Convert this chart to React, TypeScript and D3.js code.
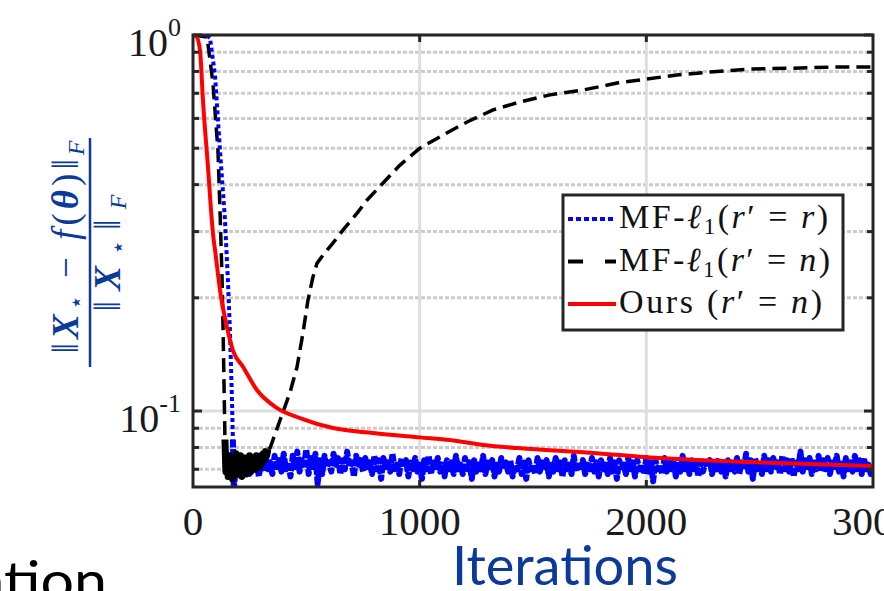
import * as d3 from "d3";

// x axis (iterations) and y axis (relative error, log scale)
const iterTicks = [0, 1000, 2000, 3000];
const iterGrid = [1000, 2000];
const errMajor = [0.1, 1];
const errMinor = [0.07, 0.08, 0.09, 0.2, 0.3, 0.4, 0.5, 0.6, 0.7, 0.8, 0.9];

// Ours (r' = n)
const oursIter = [0, 15, 31, 44, 66, 88, 100, 119, 150, 176, 221, 282, 371, 472, 618, 794, 1000, 1134, 1280, 1430, 1575, 1707, 2000, 2444, 3000];
const oursErr = [1.0, 0.99, 0.91, 0.67, 0.446, 0.297, 0.26, 0.21, 0.167, 0.145, 0.131, 0.1137, 0.1018, 0.0958, 0.0901, 0.0874, 0.0851, 0.0837, 0.0812, 0.0797, 0.0787, 0.0778, 0.0754, 0.0732, 0.0714];

// MF-l1 (r' = r): drop, then noisy floor sampled every 10 iterations from 180
const mfrIter = [0, 60, 75, 97, 119, 141, 154, 163, 172, 176];
const mfrErr = [1.0, 1.0, 0.982, 0.783, 0.494, 0.322, 0.223, 0.164, 0.107, 0.084];
const mfrFloorStart = 180;
const mfrFloorStep = 10;
const mfrFloor = [
  0.062, 0.072, 0.069, 0.075, 0.067, 0.071, 0.074, 0.068, 0.073, 0.070, 0.076, 0.067, 0.072, 0.069, 0.075, 0.070, 0.073, 0.068, 0.076, 0.071,
  0.074, 0.069, 0.077, 0.070, 0.073, 0.067, 0.076, 0.071, 0.078, 0.069, 0.074, 0.072, 0.079, 0.068, 0.075, 0.071, 0.077, 0.064, 0.074, 0.068,
  0.076, 0.071, 0.073, 0.069, 0.077, 0.072, 0.075, 0.068, 0.074, 0.070, 0.078, 0.071, 0.073, 0.067, 0.076, 0.072, 0.074, 0.069, 0.075, 0.071,
  0.073, 0.068, 0.076, 0.070, 0.074, 0.066, 0.075, 0.071, 0.073, 0.069, 0.077, 0.070, 0.072, 0.068, 0.075, 0.071, 0.074, 0.067, 0.073, 0.070,
  0.075, 0.069, 0.072, 0.066, 0.074, 0.070, 0.076, 0.068, 0.073, 0.071, 0.075, 0.069, 0.072, 0.067, 0.074, 0.070, 0.073, 0.068, 0.076, 0.070,
  0.072, 0.068, 0.075, 0.070, 0.073, 0.066, 0.074, 0.069, 0.072, 0.070, 0.076, 0.068, 0.073, 0.071, 0.074, 0.067, 0.072, 0.069, 0.075, 0.070,
  0.073, 0.069, 0.074, 0.067, 0.072, 0.070, 0.075, 0.068, 0.073, 0.066, 0.074, 0.070, 0.072, 0.068, 0.075, 0.069, 0.073, 0.071, 0.074, 0.067,
  0.072, 0.069, 0.075, 0.070, 0.073, 0.067, 0.074, 0.070, 0.072, 0.068, 0.076, 0.069, 0.073, 0.071, 0.074, 0.068, 0.072, 0.070, 0.075, 0.069,
  0.073, 0.067, 0.074, 0.070, 0.072, 0.068, 0.075, 0.069, 0.073, 0.066, 0.074, 0.071, 0.072, 0.068, 0.075, 0.070, 0.073, 0.067, 0.074, 0.070,
  0.072, 0.068, 0.075, 0.069, 0.073, 0.065, 0.074, 0.070, 0.072, 0.068, 0.075, 0.069, 0.073, 0.070, 0.074, 0.067, 0.072, 0.069, 0.076, 0.070,
  0.073, 0.068, 0.074, 0.070, 0.072, 0.067, 0.075, 0.069, 0.073, 0.071, 0.074, 0.068, 0.072, 0.070, 0.075, 0.069, 0.073, 0.067, 0.074, 0.070,
  0.072, 0.069, 0.075, 0.068, 0.073, 0.070, 0.077, 0.069, 0.074, 0.066, 0.075, 0.070, 0.073, 0.068, 0.076, 0.070, 0.074, 0.069, 0.075, 0.071,
  0.073, 0.068, 0.076, 0.070, 0.074, 0.069, 0.075, 0.067, 0.073, 0.070, 0.078, 0.069, 0.074, 0.071, 0.075, 0.068, 0.073, 0.070, 0.076, 0.069,
  0.074, 0.070, 0.075, 0.068, 0.073, 0.071, 0.076, 0.069, 0.074, 0.067, 0.075, 0.070, 0.073, 0.069, 0.076, 0.070, 0.074, 0.068, 0.075, 0.070,
  0.072, 0.068, 0.071,
];

// MF-l1 (r' = n): drop, noisy dip every 5 iterations from 145, then rise
const mfnDropIter = [0, 62, 88, 110, 119, 128, 133, 138, 141];
const mfnDropErr = [1.0, 0.988, 0.745, 0.494, 0.343, 0.227, 0.161, 0.107, 0.084];
const mfnDipStart = 145;
const mfnDipStep = 5;
const mfnDip = [
  0.069, 0.074, 0.067, 0.076, 0.070, 0.072, 0.066, 0.075, 0.069, 0.077, 0.068, 0.073, 0.070, 0.076, 0.067, 0.074, 0.071, 0.075, 0.068, 0.073,
  0.070, 0.076, 0.069, 0.074, 0.071, 0.075, 0.070, 0.076, 0.072, 0.075, 0.071, 0.076, 0.073, 0.077, 0.074, 0.078, 0.076, 0.079,
];
const mfnRiseIter = [340, 384, 428, 459, 485, 507, 529, 547, 574, 618, 662, 724, 768, 913, 1001, 1103, 1209, 1324, 1443, 1575, 1721, 1871, 2003, 2135, 2281, 2457, 2678, 2824, 3000];
const mfnRiseErr = [0.0797, 0.0946, 0.112, 0.131, 0.161, 0.197, 0.227, 0.247, 0.26, 0.28, 0.303, 0.336, 0.364, 0.451, 0.5, 0.542, 0.587, 0.632, 0.664, 0.693, 0.714, 0.745, 0.764, 0.783, 0.797, 0.812, 0.817, 0.822, 0.822];

const W = 884;
const H = 591;
const plot = { left: 193, top: 35, right: 873, bottom: 487 };
const errBottom = 0.0628;

const BLUE_TEXT = "#0b3a9a";
const AXIS = "#262626";
const SERIF = "'Liberation Serif', 'DejaVu Serif', serif";
const SANS = "Lato, 'Open Sans', sans-serif";

const xScale = d3.scaleLinear().domain([0, 3000]).range([plot.left, plot.right]);
const yScale = d3.scaleLog().domain([errBottom, 1]).range([plot.bottom, plot.top]);

type Pt = [number, number];
const zip = (xs: number[], ys: number[]): Pt[] => xs.map((x, i) => [x, ys[i]]);
const fromStep = (start: number, step: number, ys: number[]): Pt[] => ys.map((y, i) => [start + i * step, y]);

const oursPts = zip(oursIter, oursErr);
const mfrDrop = zip(mfrIter, mfrErr);
const mfrNoise = [mfrDrop[mfrDrop.length - 1]].concat(fromStep(mfrFloorStart, mfrFloorStep, mfrFloor));
const mfnDrop = zip(mfnDropIter, mfnDropErr);
const mfnNoise = [mfnDrop[mfnDrop.length - 1]].concat(fromStep(mfnDipStart, mfnDipStep, mfnDip));
const mfnRise = zip(mfnRiseIter, mfnRiseErr);
const mfnPts = mfnDrop.concat(fromStep(mfnDipStart, mfnDipStep, mfnDip)).concat(mfnRise);

const line = d3.line<Pt>().x((d) => xScale(d[0])).y((d) => yScale(d[1]));
const smooth = d3.line<Pt>().x((d) => xScale(d[0])).y((d) => yScale(d[1])).curve(d3.curveMonotoneX);

const legendRows = [
  { color: "#0000ff", dash: "5,3", label: "r" },
  { color: "#000000", dash: "15,22", label: "n" },
  { color: "#ff0000", dash: "", label: "ours" },
];

function ErrLabel({ v }: { v: number }) {
  const exp = Math.round(Math.log10(v));
  return (
    <text x={181} y={yScale(v) + 21} textAnchor="end" fontFamily={SERIF} fontSize={40} fill="#1a1a1a">
      <tspan>10</tspan>
      <tspan fontSize={26} dy={-20}>{exp === 0 ? "0" : `${exp}`}</tspan>
    </text>
  );
}

function LegendLabel({ kind, x, y }: { kind: string; x: number; y: number }) {
  if (kind === "ours") {
    return (
      <text x={x} y={y} fontFamily={SERIF} fontSize={34} fill="#111" textLength={203} lengthAdjust="spacing">
        <tspan>Ours (</tspan>
        <tspan fontStyle="italic">r</tspan>
        <tspan>′ = </tspan>
        <tspan fontStyle="italic">n</tspan>
        <tspan>)</tspan>
      </text>
    );
  }
  return (
    <text x={x} y={y} fontFamily={SERIF} fontSize={34} fill="#111" textLength={kind === "r" ? 209 : 211} lengthAdjust="spacing">
      <tspan>MF-</tspan>
      <tspan fontStyle="italic">ℓ</tspan>
      <tspan fontSize={23} dy={6}>1</tspan>
      <tspan dy={-6}>(</tspan>
      <tspan fontStyle="italic">r</tspan>
      <tspan>′ = </tspan>
      <tspan fontStyle="italic">{kind}</tspan>
      <tspan>)</tspan>
    </text>
  );
}

export default function App() {
  const legendX = 563;
  const legendY = 195;
  return (
    <svg width={W} height={H} style={{ position: "absolute", left: 0, top: 0, background: "#fff" }}>
      <defs>
        <clipPath id="plotClip">
          <rect x={plot.left} y={plot.top} width={plot.right - plot.left} height={plot.bottom - plot.top} />
        </clipPath>
      </defs>

      {/* grid */}
      {errMinor.map((v) => (
        <line key={"gm" + v} x1={plot.left} x2={plot.right} y1={yScale(v)} y2={yScale(v)} stroke="#cbcbcb" strokeWidth={3} strokeDasharray="4,2" />
      ))}
      {errMajor.map((v) => (
        <line key={"gM" + v} x1={plot.left} x2={plot.right} y1={yScale(v)} y2={yScale(v)} stroke="#dedede" strokeWidth={3} />
      ))}
      {iterGrid.map((v) => (
        <line key={"gx" + v} x1={xScale(v)} x2={xScale(v)} y1={plot.top} y2={plot.bottom} stroke="#dedede" strokeWidth={3} />
      ))}

      {/* series */}
      <g clipPath="url(#plotClip)" fill="none" strokeLinejoin="round">
        <path d={line(mfnPts) || ""} stroke="#000" strokeWidth={3.5} strokeDasharray="14,7" />
        <path d={line(mfrNoise) || ""} stroke="#0000ff" strokeWidth={6} strokeDasharray="8,1.5" />
        <path d={line(mfnNoise) || ""} stroke="#000" strokeWidth={7} />
        <path d={line(mfrDrop) || ""} stroke="#0000ff" strokeWidth={4} strokeDasharray="4,3" />
        <path d={smooth(oursPts) || ""} stroke="#ff0000" strokeWidth={4} />
      </g>

      {/* axes box and ticks */}
      <rect x={plot.left} y={plot.top} width={plot.right - plot.left} height={plot.bottom - plot.top} fill="none" stroke={AXIS} strokeWidth={3} />
      {errMinor.concat(errMajor).map((v) => {
        const len = errMajor.includes(v) ? 9 : 6;
        const y = yScale(v);
        return (
          <g key={"t" + v} stroke={AXIS} strokeWidth={3}>
            <line x1={plot.left} x2={plot.left + len} y1={y} y2={y} />
            <line x1={plot.right} x2={plot.right - len} y1={y} y2={y} />
          </g>
        );
      })}
      {iterGrid.map((v) => (
        <g key={"tx" + v} stroke={AXIS} strokeWidth={3}>
          <line x1={xScale(v)} x2={xScale(v)} y1={plot.bottom} y2={plot.bottom - 7} />
          <line x1={xScale(v)} x2={xScale(v)} y1={plot.top} y2={plot.top + 7} />
        </g>
      ))}

      {/* tick labels */}
      {iterTicks.map((v) => (
        <text key={"lx" + v} x={xScale(v)} y={535} textAnchor="middle" fontFamily={SERIF} fontSize={41} fill="#1a1a1a">
          {v}
        </text>
      ))}
      {errMajor.map((v) => (
        <ErrLabel key={"ly" + v} v={v} />
      ))}

      {/* y label: ||X* - f(theta)||_F / ||X*||_F */}
      <g transform="translate(90,252) rotate(-90)" fill={BLUE_TEXT} fontFamily={SERIF}>
        <text x={5} y={-12} textAnchor="middle" fontSize={37} textLength={213} lengthAdjust="spacing">
          <tspan>‖</tspan>
          <tspan fontWeight="bold" fontStyle="italic">X</tspan>
          <tspan fontSize={24} dy={6}>⋆</tspan>
          <tspan dy={-6}> − </tspan>
          <tspan fontStyle="italic">f</tspan>
          <tspan>(</tspan>
          <tspan fontWeight="bold" fontStyle="italic">θ</tspan>
          <tspan>)‖</tspan>
          <tspan fontSize={24} fontStyle="italic" dy={6}>F</tspan>
        </text>
        <line x1={-115} x2={114} y1={0} y2={0} stroke={BLUE_TEXT} strokeWidth={2.5} />
        <text x={-1} y={30} textAnchor="middle" fontSize={37} textLength={117} lengthAdjust="spacing">
          <tspan>‖</tspan>
          <tspan fontWeight="bold" fontStyle="italic">X</tspan>
          <tspan fontSize={24} dy={6}>⋆</tspan>
          <tspan dy={-6}>‖</tspan>
          <tspan fontSize={24} fontStyle="italic" dy={6}>F</tspan>
        </text>
      </g>

      {/* x label */}
      <text x={565} y={585} textAnchor="middle" fontFamily={SANS} fontSize={54} fill={BLUE_TEXT} textLength={226} lengthAdjust="spacingAndGlyphs">
        Iterations
      </text>
      <text x={107} y={600} textAnchor="end" fontFamily={SANS} fontSize={54} fill="#000" textLength={132} lengthAdjust="spacingAndGlyphs">
        ation
      </text>

      {/* legend */}
      <rect x={legendX} y={legendY} width={280} height={135} fill="#fff" stroke={AXIS} strokeWidth={3} />
      {legendRows.map((r, i) => {
        const cy = legendY + 24 + i * 42.5;
        return (
          <g key={"lg" + i}>
            <line x1={legendX + 5} x2={legendX + 53} y1={cy} y2={cy} stroke={r.color} strokeWidth={4} strokeDasharray={r.dash || undefined} />
            <LegendLabel kind={r.label} x={legendX + 56} y={cy + 9} />
          </g>
        );
      })}
    </svg>
  );
}
